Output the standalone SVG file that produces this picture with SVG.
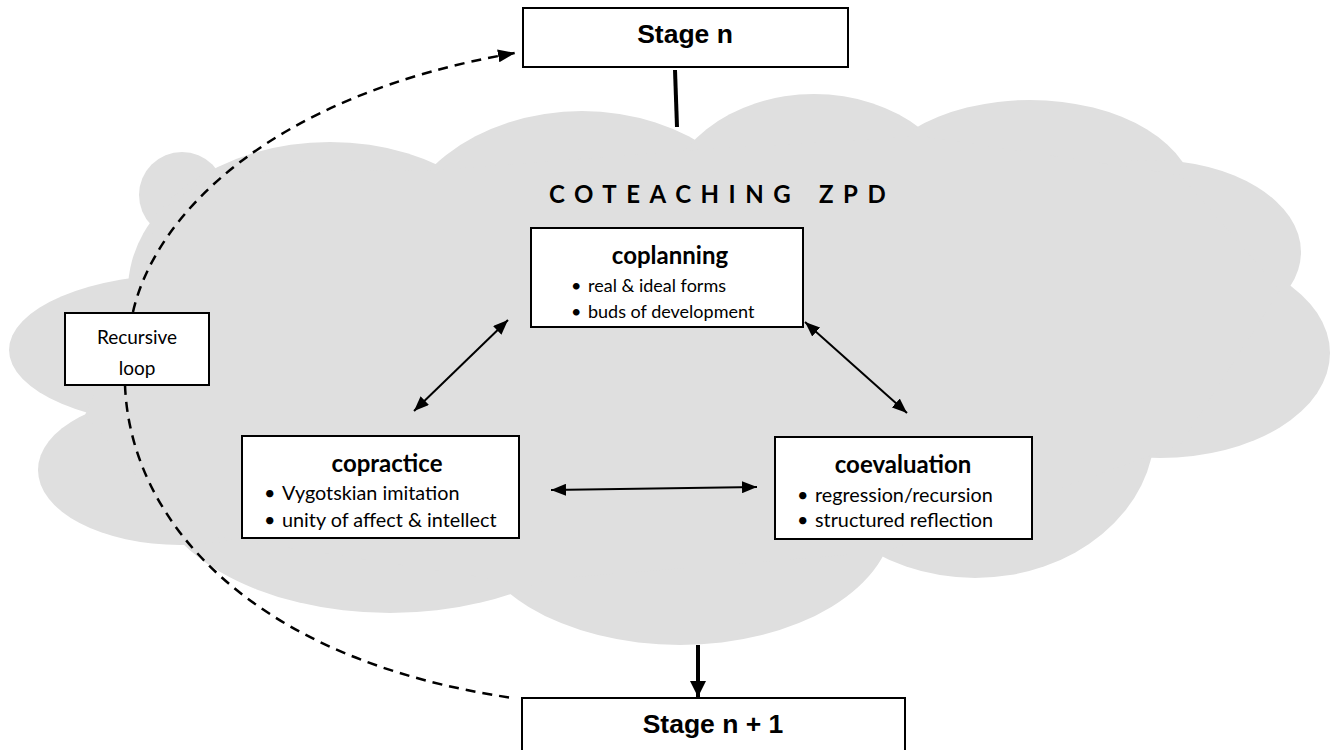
<svg xmlns="http://www.w3.org/2000/svg" width="1330" height="750" viewBox="0 0 1330 750">
<style>
.box{fill:#fff;stroke:#000;stroke-width:2}
.stage{font-family:"Liberation Sans",Arial,sans-serif;font-weight:bold;font-size:26.5px;fill:#000;text-anchor:middle}
.ttl{font-family:Lato,"Open Sans",sans-serif;font-weight:bold;font-size:24px;fill:#000;text-anchor:middle}
.bul{font-family:Lato,"Open Sans",sans-serif;font-size:18px;fill:#000}
.bul2{font-family:Lato,"Open Sans",sans-serif;font-size:19.8px;fill:#000}
.rec{font-family:Lato,"Open Sans",sans-serif;font-size:19px;fill:#000;text-anchor:middle}
.head{font-family:Lato,"Open Sans",sans-serif;font-weight:bold;font-size:24px;fill:#000;letter-spacing:9.5px}
.conn{stroke:#000;stroke-width:2;fill:none}
.thick{stroke:#000;stroke-width:4;fill:none}
.dash{stroke:#000;stroke-width:2.5;fill:none;stroke-dasharray:10 7}
</style>
<defs>
<marker id="ah" viewBox="0 0 15 12" refX="15" refY="6" markerWidth="15" markerHeight="12" markerUnits="userSpaceOnUse" orient="auto-start-reverse">
<path d="M0,0 L15,6 L0,12 z" fill="#000"/>
</marker>
<marker id="ahDash" viewBox="0 0 17 13" refX="17" refY="6.5" markerWidth="17" markerHeight="13" markerUnits="userSpaceOnUse" orient="auto">
<path d="M0,0 L17,6.5 L0,13 z" fill="#000"/>
</marker>
<marker id="ahBig" viewBox="0 0 16 16" refX="16" refY="8" markerWidth="16" markerHeight="16" markerUnits="userSpaceOnUse" orient="auto">
<path d="M0,0 L16,8 L0,16 z" fill="#000"/>
</marker>
<clipPath id="clipRec"><rect x="66" y="314" width="142" height="65"/></clipPath>
<clipPath id="clipPrac"><rect x="243" y="437" width="275" height="94"/></clipPath>
</defs>
<g id="cloud" fill="#dfdfdf">
<circle cx="182" cy="195" r="43"/>
<ellipse cx="330" cy="290" rx="202" ry="148"/>
<ellipse cx="582" cy="261" rx="192" ry="150"/>
<ellipse cx="814" cy="214" rx="152" ry="120"/>
<ellipse cx="1030" cy="200" rx="165" ry="100"/>
<ellipse cx="1151" cy="252" rx="150" ry="92"/>
<ellipse cx="1160" cy="353" rx="170" ry="105"/>
<ellipse cx="975" cy="428" rx="180" ry="150"/>
<ellipse cx="680" cy="515" rx="214" ry="130"/>
<ellipse cx="390" cy="473" rx="240" ry="140"/>
<ellipse cx="180" cy="470" rx="142" ry="75"/>
<ellipse cx="189" cy="350" rx="180" ry="76"/>
<polygon points="145,280 155,215 215,172 437,170 696,150 921,136 1180,175 1280,290 1180,445 883,552 513,582 185,532 85,415"/>
</g>
<text id="title" class="head" x="549" y="203">COTEACHING<tspan x="819">ZPD</tspan></text>
<g id="connectors">
<line class="conn" x1="508" y1="320" x2="414" y2="411" marker-start="url(#ah)" marker-end="url(#ah)"/>
<line class="conn" x1="805" y1="322" x2="907" y2="413" marker-start="url(#ah)" marker-end="url(#ah)"/>
<line class="conn" x1="551" y1="490" x2="757" y2="487" marker-start="url(#ah)" marker-end="url(#ah)"/>
<line class="thick" x1="675" y1="70" x2="677" y2="127"/>
<line class="thick" x1="698" y1="645" x2="698" y2="697" marker-end="url(#ahBig)"/>
<path class="dash" d="M133,312 C155,215 270,95 515,53" marker-end="url(#ahDash)"/>
<path class="dash" d="M125,385 C130,520 250,660 513,698"/>
</g>
<g id="stage-n">
<rect class="box" x="523" y="8" width="325" height="59"/>
<text class="stage" x="685" y="43">Stage n</text>
</g>
<g id="stage-n1">
<rect class="box" x="522" y="698" width="383" height="60"/>
<text class="stage" x="713" y="733">Stage n + 1</text>
</g>
<g id="recursive-loop">
<rect class="box" x="65" y="313" width="144" height="72"/>
<g clip-path="url(#clipRec)">
<text class="rec" x="137" y="344">Recursive</text>
<text class="rec" x="137" y="375">loop</text>
</g>
</g>
<g id="coplanning">
<rect class="box" x="531" y="228" width="272" height="99"/>
<text class="ttl" x="670" y="264">coplanning</text>
<text class="bul" x="571" y="292">•</text><text class="bul" x="588" y="292">real &amp; ideal forms</text>
<text class="bul" x="571" y="318">•</text><text class="bul" x="588" y="318">buds of development</text>
</g>
<g id="copractice">
<rect class="box" x="242" y="436" width="277" height="102"/>
<text class="ttl" x="387" y="472">copractice</text>
<g clip-path="url(#clipPrac)">
<text class="bul2" x="264" y="500">•</text><text class="bul2" x="282" y="500">Vygotskian imitation</text>
<text class="bul2" x="264" y="527">•</text><text class="bul2" x="282" y="527">unity of affect &amp; intellect</text>
</g>
</g>
<g id="coevaluation">
<rect class="box" x="775" y="437" width="257" height="102"/>
<text class="ttl" x="903" y="473">coevaluation</text>
<text class="bul2" x="797" y="502">•</text><text class="bul2" x="815" y="502">regression/recursion</text>
<text class="bul2" x="797" y="527">•</text><text class="bul2" x="815" y="527">structured reflection</text>
</g>
</svg>
